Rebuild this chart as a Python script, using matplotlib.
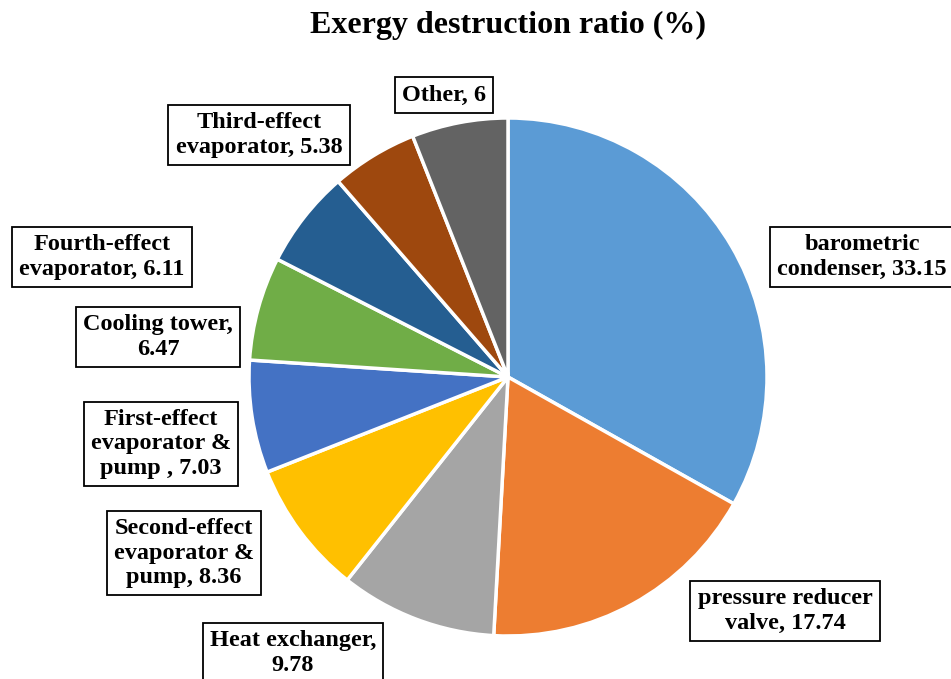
import matplotlib
matplotlib.use('Agg')
import matplotlib.pyplot as plt

# data
components = ['barometric\ncondenser', 'pressure reducer\nvalve', 'Heat exchanger,\n',
              'Second-effect\nevaporator &\npump', 'First-effect\nevaporator &\npump ',
              'Cooling tower,\n', 'Fourth-effect\nevaporator', 'Third-effect\nevaporator', 'Other']
ratios = [33.15, 17.74, 9.78, 8.36, 7.03, 6.47, 6.11, 5.38, 6]
colors = ['#5B9BD5', '#ED7D31', '#A5A5A5', '#FFC000', '#4472C4',
          '#70AD47', '#255E91', '#9E480E', '#636363']

# label box centres in pixel coords (from top-left)
label_pos = [(862, 257), (785, 611), (293, 653), (184, 553), (161, 444),
             (158, 337), (102, 257), (259, 135), (444, 95)]

W, H = 951, 679
plt.rcParams['font.family'] = ['Liberation Serif', 'DejaVu Serif']

fig = plt.figure(figsize=(W / 100, H / 100), dpi=100)
ax = fig.add_axes([0, 0, 1, 1])

ax.pie(ratios, colors=colors, startangle=90, counterclock=False,
       center=(508, H - 377), radius=259,
       wedgeprops={'edgecolor': 'white', 'linewidth': 2.5})

# pie() resets the limits, so fix the pixel-like frame afterwards
ax.set_xlim(0, W)
ax.set_ylim(0, H)
ax.set_aspect('equal')
ax.axis('off')

for name, val, (px, py) in zip(components, ratios, label_pos):
    if name.endswith('\n'):
        txt = f'{name}{val:g}'
    else:
        txt = f'{name}, {val:g}'
    ax.text(px, H - py, txt, ha='center', va='center', fontsize=17.5,
            fontweight='bold', linespacing=1.22,
            bbox=dict(boxstyle='square,pad=0.3', fc='white', ec='black', lw=1.3))

fig.text(508 / W, 1 - 25 / H, 'Exergy destruction ratio (%)', ha='center', va='center',
         fontsize=23, fontweight='bold')

fig.savefig('out.png', dpi=100, facecolor='white')
